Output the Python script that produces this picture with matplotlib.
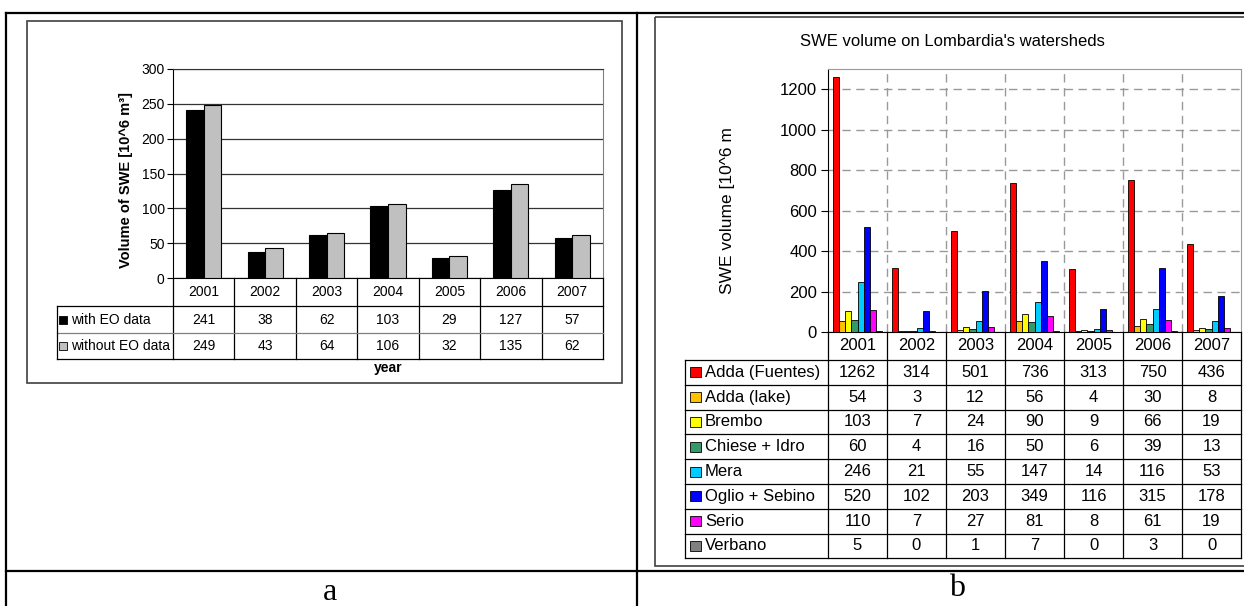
import numpy as np
import matplotlib
matplotlib.use("Agg")
import matplotlib.pyplot as plt
from matplotlib.lines import Line2D
from matplotlib.patches import Rectangle
from matplotlib.transforms import Affine2D, blended_transform_factory, Bbox, TransformedBbox

plt.rcParams['font.family'] = ['Liberation Sans', 'DejaVu Sans']

# ---- data -------------------------------------------------------------
years = ['2001', '2002', '2003', '2004', '2005', '2006', '2007']

# panel a: total SWE volume [10^6 m^3]
with_eo = [241, 38, 62, 103, 29, 127, 57]
without_eo = [249, 43, 64, 106, 32, 135, 62]
series_a_labels = ['with EO data', 'without EO data']
series_a_colors = ['#000000', '#C0C0C0']

# panel b: SWE volume per watershed [10^6 m^3]
basins = ['Adda (Fuentes)', 'Adda (lake)', 'Brembo', 'Chiese + Idro',
          'Mera', 'Oglio + Sebino', 'Serio', 'Verbano']
adda_fuentes = [1262, 314, 501, 736, 313, 750, 436]
adda_lake = [54, 3, 12, 56, 4, 30, 8]
brembo = [103, 7, 24, 90, 9, 66, 19]
chiese_idro = [60, 4, 16, 50, 6, 39, 13]
mera = [246, 21, 55, 147, 14, 116, 53]
oglio_sebino = [520, 102, 203, 349, 116, 315, 178]
serio = [110, 7, 27, 81, 8, 61, 19]
verbano = [5, 0, 1, 7, 0, 3, 0]
basin_colors = ['#FF0000', '#FFC000', '#FFFF00', '#339966',
                '#00CCFF', '#0000FF', '#FF00FF', '#808080']

# ---- figure & pixel helper ---------------------------------------------
W, H = 1244, 606
fig = plt.figure(figsize=(W / 100, H / 100), dpi=100)
PX = Affine2D().scale(1 / W, -1 / H).translate(0, 1) + fig.transFigure


def line(xs, ys, trans=PX, color='black', lw=1.0):
    fig.add_artist(Line2D(xs, ys, transform=trans, color=color, lw=lw,
                          solid_capstyle='projecting'))


def axes_px(left, top, right, bottom):
    return fig.add_axes([left / W, 1 - bottom / H, (right - left) / W,
                         (bottom - top) / H])


# ---- outer layout grid --------------------------------------------------
line([6, 1244], [13, 13], lw=1.6)
line([6, 6], [13, 606], lw=1.6)
line([637, 637], [13, 606], lw=1.6)
line([6, 1244], [571, 571], lw=1.6)

fig.text(330, 592, 'a', transform=PX, ha='center', va='center',
         fontsize=23, family='Liberation Serif')
fig.text(957, 589, 'b', transform=PX, ha='center', va='center',
         fontsize=23, family='Liberation Serif')

# ---- panel a -------------------------------------------------------------
FS_A = 10
fig.add_artist(Rectangle((27, 21), 595, 362, transform=PX, fill=False,
                         ec='#404040', lw=1.2))

ax_a = axes_px(173, 69, 603, 278)
x = np.arange(len(years))
bw_a = 0.285
ax_a.bar(x - bw_a / 2, with_eo, bw_a, color=series_a_colors[0],
         edgecolor='black', lw=0.8, zorder=3)
ax_a.bar(x + bw_a / 2, without_eo, bw_a, color=series_a_colors[1],
         edgecolor='black', lw=0.8, zorder=3)
ax_a.set_xlim(-0.5, len(years) - 0.5)
ax_a.set_ylim(0, 300)
ax_a.set_yticks(np.arange(0, 301, 50))
ax_a.set_xticks([])
ax_a.yaxis.grid(True, color='#333333', lw=0.9)
ax_a.set_axisbelow(True)
ax_a.tick_params(axis='y', length=4, width=0.8, labelsize=FS_A, pad=2)
ax_a.set_facecolor('none')
for s in ['left', 'bottom']:
    ax_a.spines[s].set_color('black')
ax_a.spines['top'].set_color('#333333')
ax_a.spines['right'].set_color('#808080')

fig.text(126, 180, 'Volume of SWE [10^6 m³]', transform=PX, rotation=90,
         ha='center', va='center', fontsize=10.5, fontweight='bold')

# data table under panel a
bt_a = blended_transform_factory(ax_a.transData, PX)
for i, yr in enumerate(years):
    fig.text(i, 292, yr, transform=bt_a, ha='center', va='center', fontsize=FS_A)
for b in np.arange(-0.5, len(years)):
    line([b, b], [278, 359], trans=bt_a, lw=0.9)
line([57, 603], [306, 306], lw=0.9)
line([57, 603], [333, 333], color='#808080', lw=0.9)
line([57, 603], [359, 359], lw=0.9)
line([57, 57], [306, 359], lw=0.9)
rows_a = [with_eo, without_eo]
for r, (lab, vals, col) in enumerate(zip(series_a_labels, rows_a, series_a_colors)):
    yc = 319.5 + r * 26.5
    fig.add_artist(Rectangle((59, yc - 4), 8, 8, transform=PX, fc=col,
                             ec='black', lw=0.6))
    fig.text(71, yc, lab, transform=PX, ha='left', va='center', fontsize=FS_A)
    for i, v in enumerate(vals):
        fig.text(i, yc, str(v), transform=bt_a, ha='center', va='center',
                 fontsize=FS_A)
fig.text(388, 368, 'year', transform=PX, ha='center', va='center',
         fontsize=FS_A, fontweight='bold')

# ---- panel b -------------------------------------------------------------
fig.add_artist(Rectangle((655, 17), 620, 549, transform=PX, fill=False,
                         ec='#404040', lw=1.2))

fig.text(952, 42, "SWE volume on Lombardia's watersheds", transform=PX,
         ha='center', va='center', fontsize=12)

ax_b = axes_px(828, 69, 1241, 332)
series_b = [adda_fuentes, adda_lake, brembo, chiese_idro, mera,
            oglio_sebino, serio, verbano]
n_b = len(series_b)
bw_b = 0.83 / n_b
for k, (vals, col) in enumerate(zip(series_b, basin_colors)):
    ax_b.bar(x + (k - (n_b - 1) / 2) * bw_b, vals, bw_b, color=col,
             edgecolor='black', lw=0.6, zorder=3)
ax_b.set_xlim(-0.5, len(years) - 0.5)
ax_b.set_ylim(0, 1300)
ax_b.set_yticks(np.arange(0, 1201, 200))
ax_b.set_xticks([])
ax_b.set_xticks(np.arange(0.5, len(years) - 1), minor=True)
ax_b.yaxis.grid(True, ls=(0, (6, 4)), color='#999999', lw=1)
ax_b.xaxis.grid(True, which='minor', ls=(0, (6, 4)), color='#999999', lw=1)
ax_b.set_axisbelow(True)
ax_b.tick_params(axis='y', length=5, width=0.8, labelsize=12, pad=3)
ax_b.tick_params(axis='x', which='both', length=0)
ax_b.set_facecolor('none')
for s in ['left', 'bottom']:
    ax_b.spines[s].set_color('black')
for s in ['top', 'right']:
    ax_b.spines[s].set_color('#999999')

ylab = fig.text(727, 294, 'SWE volume [10^6 m³]', transform=PX, rotation=90,
                rotation_mode='anchor', ha='left', va='center', fontsize=12.5)
ylab.set_clip_box(TransformedBbox(Bbox.from_extents(650 / W, 1 - 566 / H,
                                                    800 / W, 1 - 128 / H),
                                  fig.transFigure))
ylab.set_clip_on(True)

# data table under panel b
bt_b = blended_transform_factory(ax_b.transData, PX)
row_h = 24.8
top_b = 360
bottom_b = top_b + row_h * n_b
for i, yr in enumerate(years):
    fig.text(i, 346, yr, transform=bt_b, ha='center', va='center', fontsize=12)
for b in np.arange(-0.5, len(years)):
    line([b, b], [332, bottom_b], trans=bt_b, lw=0.9)
for r in range(n_b + 1):
    line([685, 1241], [top_b + r * row_h] * 2, lw=0.9)
line([685, 685], [top_b, bottom_b], lw=0.9)
for r, (lab, vals, col) in enumerate(zip(basins, series_b, basin_colors)):
    yc = top_b + (r + 0.5) * row_h
    fig.add_artist(Rectangle((690, yc - 5), 11, 10, transform=PX, fc=col,
                             ec='black', lw=0.6))
    fig.text(705, yc, lab, transform=PX, ha='left', va='center', fontsize=12)
    for i, v in enumerate(vals):
        fig.text(i, yc, str(v), transform=bt_b, ha='center', va='center',
                 fontsize=12)

fig.savefig('out.png', dpi=100)
